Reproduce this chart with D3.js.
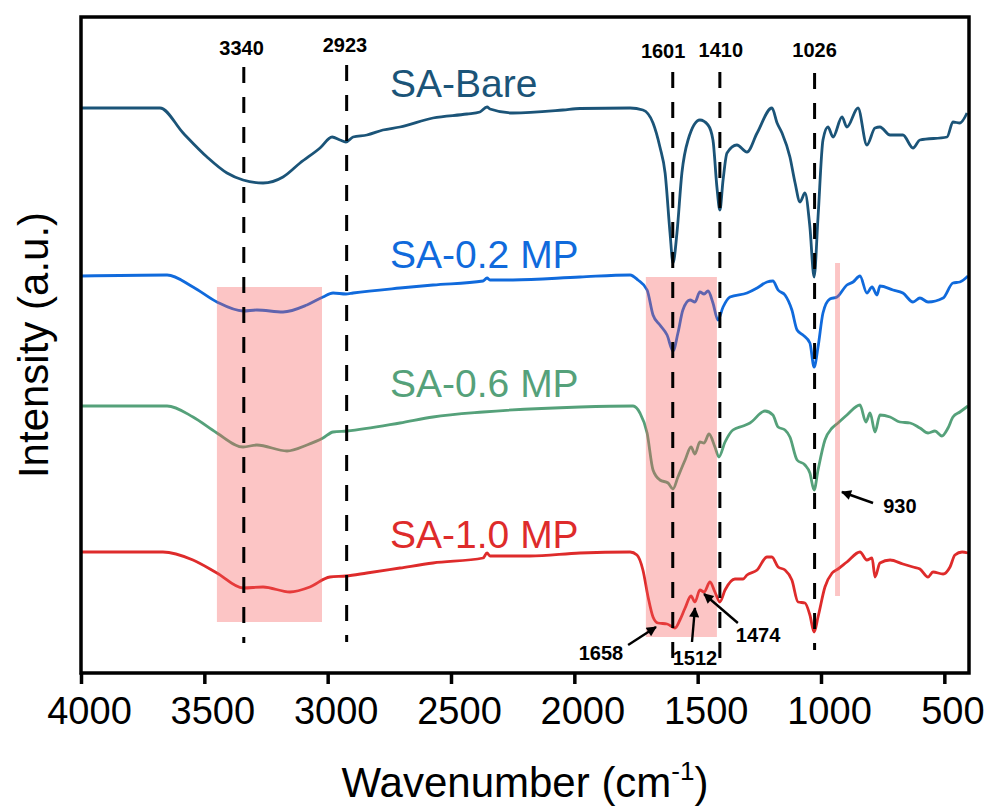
<!DOCTYPE html>
<html>
<head>
<meta charset="utf-8">
<script src="https://cdn.jsdelivr.net/npm/d3@7"></script>
<style>
    body { margin: 0; background: #fff; }
    text { font-family: "Liberation Sans", Arial, sans-serif; }
</style>
</head>
<body>
<div id="graph-container"></div>
<script>
// FTIR spectra, [wavenumber (cm-1), intensity (a.u., stacked)]
const saBare = [
    [4000, 5.65], [3680, 5.65], [3586, 5.40], [3489, 5.16], [3408, 5.00], [3343, 4.93],
    [3262, 4.90], [3181, 4.96], [3112, 5.10], [3031, 5.25], [2982, 5.36], [2950, 5.33],
    [2926, 5.31], [2897, 5.36], [2841, 5.38], [2776, 5.43], [2707, 5.46], [2573, 5.55],
    [2435, 5.59], [2383, 5.61], [2354, 5.66], [2342, 5.64], [2249, 5.60], [2046, 5.63],
    [1977, 5.645], [1774, 5.65], [1722, 5.63], [1681, 5.50], [1653, 5.26], [1632, 5.00],
    [1612, 4.40], [1600, 4.10], [1584, 4.40], [1564, 5.00], [1539, 5.33], [1491, 5.53],
    [1458, 5.48], [1438, 5.33], [1422, 4.86], [1410, 4.63], [1397, 4.93], [1381, 5.20],
    [1341, 5.28], [1300, 5.21], [1259, 5.40], [1199, 5.65], [1178, 5.50], [1158, 5.40],
    [1126, 5.16], [1105, 4.90], [1085, 4.71], [1065, 4.80], [1045, 4.46], [1028, 3.96],
    [1012, 4.56], [992, 5.33], [972, 5.46], [951, 5.36], [915, 5.56], [895, 5.46],
    [850, 5.65], [814, 5.28], [781, 5.45], [761, 5.46], [720, 5.38], [668, 5.38],
    [627, 5.25], [599, 5.33], [489, 5.36], [465, 5.51], [437, 5.50], [408, 5.60]
];

const sa02 = [
    [4000, 3.97], [3651, 3.98], [3546, 3.86], [3449, 3.71], [3343, 3.62], [3287, 3.63],
    [3181, 3.61], [3084, 3.68], [3019, 3.76], [2978, 3.80], [2926, 3.79], [2897, 3.80],
    [2707, 3.85], [2573, 3.88], [2370, 3.92], [2354, 3.95], [2342, 3.93], [2249, 3.93],
    [1977, 3.96], [1774, 3.98], [1742, 3.93], [1705, 3.83], [1681, 3.58], [1653, 3.48],
    [1624, 3.38], [1600, 3.22], [1580, 3.40], [1560, 3.63], [1531, 3.73], [1511, 3.71],
    [1491, 3.81], [1474, 3.79], [1458, 3.82], [1438, 3.70], [1418, 3.53], [1397, 3.66],
    [1369, 3.76], [1300, 3.80], [1259, 3.85], [1219, 3.91], [1195, 3.92], [1174, 3.83],
    [1146, 3.78], [1118, 3.63], [1097, 3.43], [1073, 3.38], [1045, 3.30], [1028, 3.06],
    [1012, 3.26], [992, 3.60], [964, 3.74], [935, 3.76], [895, 3.88], [870, 3.91],
    [842, 3.97], [814, 3.80], [793, 3.86], [773, 3.78], [761, 3.87], [708, 3.83],
    [668, 3.80], [627, 3.71], [599, 3.75], [566, 3.71], [505, 3.75], [465, 3.90],
    [437, 3.91], [404, 3.97]
];

const sa06 = [
    [4000, 2.67], [3651, 2.67], [3546, 2.56], [3449, 2.40], [3343, 2.26], [3287, 2.28],
    [3165, 2.22], [3084, 2.28], [3019, 2.35], [2978, 2.41], [2922, 2.42], [2707, 2.50],
    [2573, 2.56], [2370, 2.61], [1977, 2.66], [1762, 2.67], [1734, 2.60], [1705, 2.40],
    [1681, 2.03], [1653, 1.93], [1620, 1.90], [1600, 1.84], [1580, 1.96], [1551, 2.13],
    [1527, 2.26], [1511, 2.19], [1491, 2.31], [1474, 2.30], [1454, 2.39], [1430, 2.26],
    [1414, 2.16], [1389, 2.31], [1357, 2.43], [1316, 2.47], [1288, 2.50], [1227, 2.62],
    [1195, 2.58], [1174, 2.46], [1146, 2.43], [1126, 2.36], [1097, 2.13], [1065, 2.08],
    [1045, 2.00], [1028, 1.83], [1012, 2.03], [984, 2.33], [955, 2.45], [931, 2.50],
    [895, 2.58], [842, 2.68], [818, 2.51], [801, 2.60], [781, 2.41], [761, 2.58],
    [720, 2.56], [680, 2.51], [639, 2.50], [599, 2.45], [566, 2.40], [538, 2.42],
    [510, 2.37], [485, 2.45], [465, 2.56], [437, 2.61], [404, 2.67]
];

const sa10 = [
    [4000, 1.21], [3668, 1.21], [3546, 1.13], [3449, 1.00], [3343, 0.85], [3262, 0.86],
    [3153, 0.81], [3072, 0.86], [2991, 0.96], [2926, 0.97], [2841, 1.00], [2707, 1.05],
    [2573, 1.10], [2370, 1.15], [2354, 1.20], [2342, 1.17], [2180, 1.17], [1977, 1.20],
    [1774, 1.21], [1746, 1.18], [1722, 1.03], [1701, 0.76], [1681, 0.56], [1661, 0.50],
    [1624, 0.49], [1592, 0.45], [1572, 0.53], [1551, 0.65], [1527, 0.77], [1511, 0.71],
    [1491, 0.83], [1474, 0.81], [1450, 0.91], [1430, 0.81], [1410, 0.71], [1389, 0.83],
    [1349, 0.94], [1316, 0.94], [1300, 0.98], [1259, 1.03], [1219, 1.16], [1199, 1.16],
    [1174, 1.06], [1146, 1.03], [1118, 0.93], [1093, 0.71], [1065, 0.70], [1045, 0.58],
    [1028, 0.41], [1012, 0.56], [984, 0.86], [955, 1.00], [931, 1.04], [895, 1.11],
    [842, 1.21], [814, 1.13], [793, 1.15], [781, 0.96], [761, 1.10], [720, 1.13],
    [668, 1.09], [627, 1.06], [599, 1.04], [566, 0.96], [546, 1.01], [505, 0.99],
    [477, 1.06], [457, 1.18], [428, 1.21], [404, 1.20]
];

const seriesNames = ["SA-Bare", "SA-0.2 MP", "SA-0.6 MP", "SA-1.0 MP"];
const seriesData = [saBare, sa02, sa06, sa10];
const seriesColors = ["#1b5478", "#106adc", "#55a17a", "#de2b2b"];
// where each name sits: [wavenumber, intensity of baseline]
const nameAnchors = [[2747, 5.76], [2747, 4.05], [2747, 2.76], [2747, 1.25]];

// dashed peak markers: [wavenumber, top, bottom, label wavenumber, label height]
const peakLines = [
    [3340, 6.06, 0.30, 3349, 6.18],
    [2923, 6.08, 0.31, 2930, 6.21],
    [1601, 6.01, 0.06, 1640, 6.15],
    [1410, 6.01, 0.06, 1406, 6.16],
    [1026, 6.00, 0.23, 1026, 6.16]
];

// shaded bands: [from, to, top, bottom]
const bands = [
    [3449, 3023, 3.86, 0.51],
    [1710, 1422, 3.96, 0.36],
    [943, 923, 4.10, 0.77]
];

// arrows: [label, tail w, tail y, tip w, tip y, label w, label y]
const arrows = [
    ["930", 789, 1.70, 915, 1.81, 680, 1.60],
    ["1658", 1782, 0.28, 1669, 0.46, 1892, 0.13],
    ["1512", 1523, 0.31, 1511, 0.65, 1511, 0.08],
    ["1474", 1337, 0.50, 1474, 0.79, 1255, 0.31]
];

const xTicks = [4000, 3500, 3000, 2500, 2000, 1500, 1000, 500];

const WIDTH = 985, HEIGHT = 807;
const plot = { left: 81, right: 969, top: 17, bottom: 673 };

const svg = d3.select("#graph-container")
    .append("svg")
    .attr("width", WIDTH)
    .attr("height", HEIGHT);

svg.append("rect")
    .attr("width", WIDTH)
    .attr("height", HEIGHT)
    .attr("fill", "#fff");

const escalaX = d3.scaleLinear()
    .domain([4000, 400])
    .range([plot.left, plot.right]);

const escalaY = d3.scaleLinear()
    .domain([0, 6.56])
    .range([plot.bottom, plot.top]);

const linea = d3.line()
    .curve(d3.curveMonotoneX)
    .x((d) => escalaX(d[0]))
    .y((d) => escalaY(d[1]));

// spectra
svg.append("g")
    .selectAll("path")
    .data(seriesData)
    .join("path")
    .attr("fill", "none")
    .attr("stroke", (d, i) => seriesColors[i])
    .attr("stroke-width", 2.8)
    .attr("stroke-linejoin", "round")
    .attr("d", (d) => linea(d));

// pink bands on top of the lines
svg.append("g")
    .selectAll("rect")
    .data(bands)
    .join("rect")
    .attr("x", (d) => escalaX(d[0]))
    .attr("width", (d) => escalaX(d[1]) - escalaX(d[0]))
    .attr("y", (d) => escalaY(d[2]))
    .attr("height", (d) => escalaY(d[3]) - escalaY(d[2]))
    .attr("fill", "#f55a5a")
    .attr("opacity", 0.35);

// dashed peak lines + labels
const peaks = svg.append("g");
peaks.selectAll("line")
    .data(peakLines)
    .join("line")
    .attr("x1", (d) => escalaX(d[0]))
    .attr("x2", (d) => escalaX(d[0]))
    .attr("y1", (d) => escalaY(d[1]))
    .attr("y2", (d) => escalaY(d[2]))
    .attr("stroke", "#000")
    .attr("stroke-width", 3)
    .attr("stroke-dasharray", "16,14");

peaks.selectAll("text")
    .data(peakLines)
    .join("text")
    .attr("x", (d) => escalaX(d[3]))
    .attr("y", (d) => escalaY(d[4]))
    .attr("text-anchor", "middle")
    .attr("font-size", 20)
    .attr("font-weight", "bold")
    .text((d) => d[0]);

// series names
svg.append("g")
    .selectAll("text")
    .data(seriesNames)
    .join("text")
    .attr("x", (d, i) => escalaX(nameAnchors[i][0]))
    .attr("y", (d, i) => escalaY(nameAnchors[i][1]))
    .attr("font-size", 39)
    .attr("fill", (d, i) => seriesColors[i])
    .text((d) => d);

// arrows
svg.append("defs")
    .append("marker")
    .attr("id", "head")
    .attr("viewBox", "0 0 10 10")
    .attr("refX", 9)
    .attr("refY", 5)
    .attr("markerWidth", 5)
    .attr("markerHeight", 4.2)
    .attr("markerUnits", "strokeWidth")
    .attr("orient", "auto")
    .append("path")
    .attr("d", "M0,0 L10,5 L0,10 Z")
    .attr("fill", "#000");

const flechas = svg.append("g");
flechas.selectAll("line")
    .data(arrows)
    .join("line")
    .attr("x1", (d) => escalaX(d[1]))
    .attr("y1", (d) => escalaY(d[2]))
    .attr("x2", (d) => escalaX(d[3]))
    .attr("y2", (d) => escalaY(d[4]))
    .attr("stroke", "#000")
    .attr("stroke-width", 2.4)
    .attr("marker-end", "url(#head)");

flechas.selectAll("text")
    .data(arrows)
    .join("text")
    .attr("x", (d) => escalaX(d[5]))
    .attr("y", (d) => escalaY(d[6]))
    .attr("text-anchor", "middle")
    .attr("font-size", 20)
    .attr("font-weight", "bold")
    .text((d) => d[0]);

// x axis
const xAxis = svg.append("g")
    .attr("transform", `translate(0, ${plot.bottom})`)
    .call(d3.axisBottom(escalaX).tickValues(xTicks).tickSize(11).tickPadding(13).tickFormat(d3.format("d")));

xAxis.select(".domain").remove();
xAxis.selectAll(".tick line")
    .attr("stroke", "#000")
    .attr("stroke-width", 3.5);
xAxis.selectAll(".tick text")
    .attr("font-family", "Liberation Sans, Arial, sans-serif")
    .attr("font-size", 38)
    .attr("fill", "#000")
    .attr("dx", 8);

// frame
svg.append("rect")
    .attr("x", plot.left)
    .attr("y", plot.top)
    .attr("width", plot.right - plot.left)
    .attr("height", plot.bottom - plot.top)
    .attr("fill", "none")
    .attr("stroke", "#000")
    .attr("stroke-width", 3.5);

// axis titles
const xTitle = svg.append("text")
    .attr("x", (plot.left + plot.right) / 2)
    .attr("y", 797)
    .attr("text-anchor", "middle")
    .attr("font-size", 42);
xTitle.append("tspan").text("Wavenumber (cm");
xTitle.append("tspan").attr("font-size", 26).attr("dy", -17).text("-1");
xTitle.append("tspan").attr("dy", 17).text(")");

svg.append("text")
    .attr("transform", `translate(48, ${(plot.top + plot.bottom) / 2}) rotate(-90)`)
    .attr("text-anchor", "middle")
    .attr("font-size", 42)
    .text("Intensity (a.u.)");
</script>
</body>
</html>
